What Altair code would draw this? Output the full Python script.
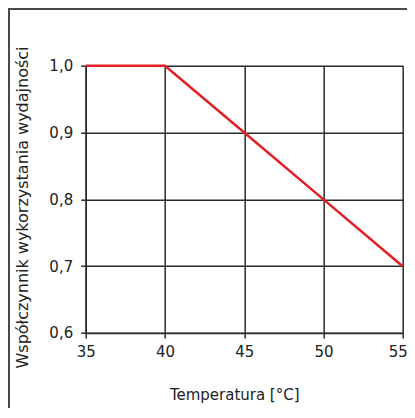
import altair as alt
import pandas as pd

# Data
temps = [35, 40, 45, 50, 55]
coef = [1.0, 1.0, 0.9, 0.8, 0.7]
x_ticks = [35, 40, 45, 50, 55]
y_ticks = [0.6, 0.7, 0.8, 0.9, 1.0]

df = pd.DataFrame({"t": temps, "c": coef})

W, H = 317, 267.3
PL, PT, PR, PB = 77.7, 57.7, 4, 75

FONT = "DejaVu Sans"
DARK = "#2a2a2a"
TXT = "#222222"

x_axis = alt.Axis(
    values=x_ticks, grid=True, gridColor=DARK, gridWidth=1.5, gridOpacity=1,
    domainColor=DARK, domainWidth=1.5, tickColor=DARK, tickWidth=1.5, tickSize=5,
    labelFont=FONT, labelFontSize=15, labelColor=TXT, labelPadding=7,
    labelFlush=False, labelOverlap=False, format="d",
    labelOffset={"condition": {"test": "datum.value == 55", "value": -5}, "value": 0},
    title="Temperatura [°C]", titleFont=FONT, titleFontSize=15,
    titleFontWeight="normal", titleColor=TXT, titleX=148.5, titleY=67,
    titleBaseline="alphabetic", titleAlign="center",
)
y_axis = alt.Axis(
    values=y_ticks, grid=True, gridColor=DARK, gridWidth=1.5, gridOpacity=1,
    domainColor=DARK, domainWidth=1.5, tickColor=DARK, tickWidth=1.5, tickSize=5,
    labelFont=FONT, labelFontSize=15, labelColor=TXT, labelPadding=8,
    labelFlush=False, labelOverlap=False,
    labelExpr="replace(format(datum.value, '.1f'), '.', ',')",
    title="Współczynnik wykorzystania wydajności", titleFont=FONT,
    titleFontSize=16, titleFontWeight="normal", titleColor=TXT,
    titleAngle=270, titleX=-57.7, titleY=141.3,
    titleBaseline="alphabetic", titleAlign="center",
)

line = alt.Chart(df).mark_line(color="#e31e24", strokeWidth=2.5).encode(
    x=alt.X("t:Q", scale=alt.Scale(domain=[35, 55], nice=False, zero=False), axis=x_axis),
    y=alt.Y("c:Q", scale=alt.Scale(domain=[0.6, 1.0], nice=False, zero=False), axis=y_axis),
)

frame_left = alt.Chart(df).mark_rule(color="#4a4a4a", strokeWidth=2).encode(
    x=alt.value(-PL + 1), y=alt.value(-PT), y2=alt.value(H + PB)
)
frame_top = alt.Chart(df).mark_rule(color="#4a4a4a", strokeWidth=2).encode(
    y=alt.value(-PT + 1), x=alt.value(-PL), x2=alt.value(W + PR)
)

chart = alt.layer(line, frame_left, frame_top).properties(
    width=W, height=H,
    autosize=alt.AutoSizeParams(type="none"),
    padding={"left": PL, "top": PT, "right": PR, "bottom": PB},
    background="white",
).configure_view(stroke=None)

chart.save("out.html", embed_options={"renderer": "svg", "actions": False})
